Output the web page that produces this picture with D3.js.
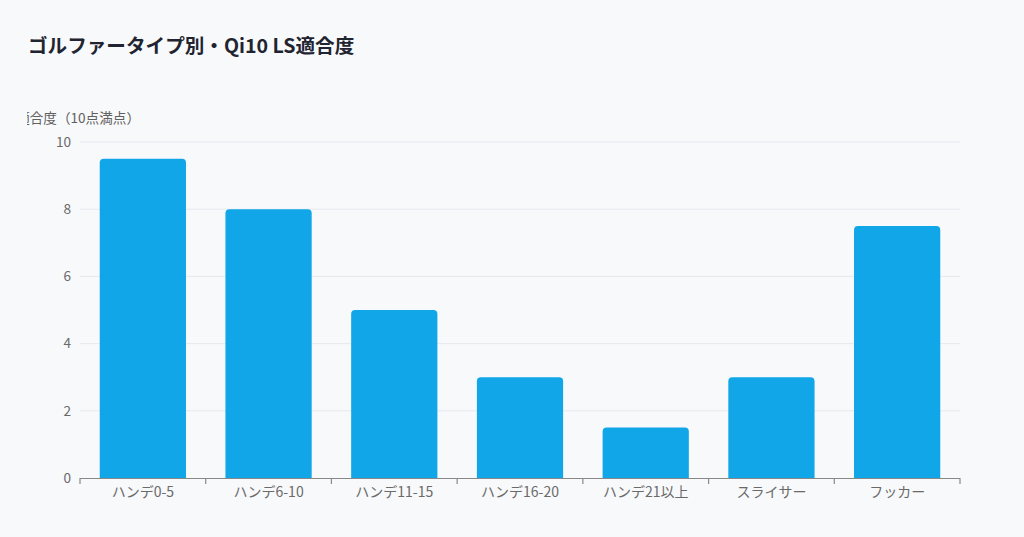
<!DOCTYPE html>
<html><head><meta charset="utf-8">
<script src="https://cdn.jsdelivr.net/npm/d3@7"></script>
<style>
html,body{margin:0;padding:0;background:#f8f9fb;}
svg{display:block;font-family:"Noto Sans CJK JP","Noto Sans",sans-serif;}
</style></head>
<body><svg id="c" width="1024" height="537"></svg>
<script>
const categories = ["ハンデ0-5","ハンデ6-10","ハンデ11-15","ハンデ16-20","ハンデ21以上","スライサー","フッカー"];
const values = [9.5, 8, 5, 3, 1.5, 3, 7.5];
const yTicks = [0, 2, 4, 6, 8, 10];
const titleText = "ゴルファータイプ別・Qi10 LS適合度";
const yLabel = "適合度（10点満点）";

const svg = d3.select("#c");
svg.append("rect").attr("width",1024).attr("height",537).attr("fill","#f8f9fb");
const x = d3.scaleBand().domain(categories).range([80,960]).padding(0);
const y = d3.scaleLinear().domain([0,10]).range([478,142]);

svg.append("text").attr("x",28).attr("y",53).text(titleText)
  .attr("font-size",19.6).attr("font-weight","bold").attr("fill","#1f2430");

// clipped y label
svg.append("clipPath").attr("id","lc").append("rect").attr("x",27).attr("y",100).attr("width",300).attr("height",30);
svg.append("text").attr("clip-path","url(#lc)").attr("x",140).attr("y",123).attr("text-anchor","end")
  .attr("font-size",13.6).attr("fill","#606060").text(yLabel);

// grid
svg.append("g").selectAll("line").data(yTicks.filter(d=>d>0)).join("line")
  .attr("x1",80).attr("x2",960).attr("y1",d=>y(d)).attr("y2",d=>y(d))
  .attr("stroke","#e6e8ef").attr("stroke-width",1);

// y tick labels
svg.append("g").selectAll("text").data(yTicks).join("text")
  .attr("x",71).attr("y",d=>y(d)).attr("dy","0.35em").attr("text-anchor","end")
  .attr("font-size",13.6).attr("fill","#6a6a6a").text(d=>d);

// bars
const bw = x.bandwidth()*0.686;
const r = 4;
svg.append("g").selectAll("path").data(values).join("path")
  .attr("fill","#10a6e8")
  .attr("d",(d,i)=>{
    const x0 = x(categories[i]) + (x.bandwidth()-bw)/2, x1 = x0+bw;
    const yt = y(d), yb = y(0);
    return `M${x0},${yb}V${yt+r}Q${x0},${yt} ${x0+r},${yt}H${x1-r}Q${x1},${yt} ${x1},${yt+r}V${yb}Z`;
  });

// x axis
const xa = svg.append("g").attr("transform","translate(0,478)")
  .call(d3.axisBottom(x).tickSize(0).tickPadding(9));
xa.select(".domain").remove();
xa.selectAll("text").attr("font-size",14).attr("fill","#6a6a6a").attr("font-family",'"Noto Sans CJK JP","Noto Sans",sans-serif');
const bounds = categories.map(c=>x(c)).concat([960]);
svg.append("line").attr("x1",80).attr("x2",960).attr("y1",478.5).attr("y2",478.5).attr("stroke","#888").attr("stroke-width",1.2);
svg.append("g").selectAll("line").data(bounds).join("line")
  .attr("x1",d=>d).attr("x2",d=>d).attr("y1",478).attr("y2",484).attr("stroke","#888").attr("stroke-width",1.2);
</script></body></html>
